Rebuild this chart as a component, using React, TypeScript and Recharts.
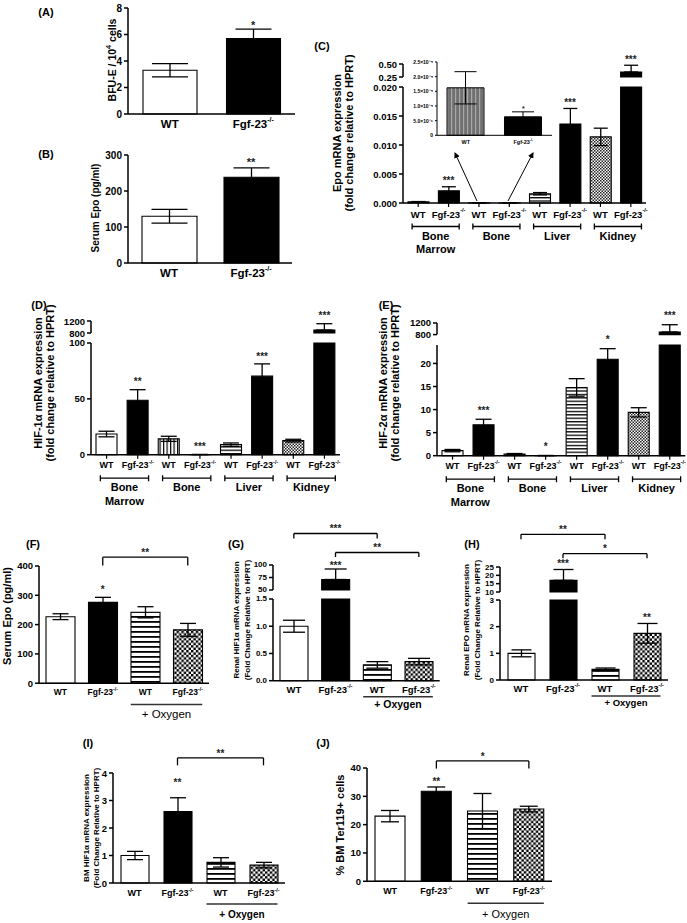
import React from 'react';
import { Bar, Cell, ComposedChart, ErrorBar, ReferenceLine, Scatter, XAxis, YAxis } from 'recharts';

const FONT = '"Liberation Sans", Arial, Helvetica, sans-serif';
const INK = '#000';

// ---- categories ----
const pairKeys = ['wt', 'ko'];
const pairLabels = ['WT', 'Fgf-23-/-'];
const insetKeys = ['iwt', 'iko'];

const tissueKeys = ['bmWT', 'bmKO', 'boneWT', 'boneKO', 'livWT', 'livKO', 'kidWT', 'kidKO'];
const tissueLabels = ['WT', 'Fgf-23-/-', 'WT', 'Fgf-23-/-', 'WT', 'Fgf-23-/-', 'WT', 'Fgf-23-/-'];
const tissueGroups = ['Bone|Marrow', 'Bone', 'Liver', 'Kidney'];

const oxyKeys = ['wt', 'ko', 'wtO2', 'koO2'];
const oxyLabels = ['WT', 'Fgf-23-/-', 'WT', 'Fgf-23-/-'];

// ---- values (mean, SEM, significance) ----
// (A) BFU-E / 10^4 cells
const bfuMean = [3.3, 5.7];
const bfuSem = [0.5, 0.7];
const bfuSig = ['', '*'];
// (B) serum Epo
const serumMean = [130, 238];
const serumSem = [19, 26];
const serumSig = ['', '**'];
// (C) Epo mRNA
const epoMean = [0.0002, 0.0021, 0.0000162, 0.0000063, 0.0016, 0.0136, 0.0114, 0.346];
const epoSem = [0.00005, 0.0007, 0.0000055, 0.0000017, 0.0002, 0.0027, 0.0015, 0.13];
const epoSig = ['', '***', '', '', '', '***', '', '***'];
const insetSig = ['', '*'];
// (D) HIF-1a mRNA
const hif1Mean = [18.5, 48.7, 14.2, 0.15, 9, 70.3, 12.6, 900];
const hif1Sem = [2.5, 9.5, 2.3, 0.05, 1.5, 11, 1.2, 210];
const hif1Sig = ['', '**', '', '***', '', '***', '', '***'];
// (E) HIF-2a mRNA
const hif2Mean = [1.1, 6.7, 0.35, 0.03, 14.8, 20.9, 9.4, 890];
const hif2Sem = [0.25, 1.2, 0.12, 0.01, 1.9, 2.3, 1.0, 250];
const hif2Sig = ['', '***', '', '*', '', '*', '', '***'];
// (F) serum Epo + oxygen
const o2EpoMean = [227, 276, 242, 182];
const o2EpoSem = [10, 17, 19, 22];
const o2EpoSig = ['', '*', '', ''];
// (G) renal HIF1a
const renalHifMean = [1.0, 71, 0.29, 0.35];
const renalHifSem = [0.11, 21, 0.06, 0.06];
const renalHifSig = ['', '***', '', ''];
// (H) renal EPO
const renalEpoMean = [1.0, 17, 0.4, 1.75];
const renalEpoSem = [0.13, 6.5, 0.05, 0.37];
const renalEpoSig = ['', '***', '', '**'];
// (I) BM HIF1a
const bmHifMean = [1.0, 2.6, 0.75, 0.65];
const bmHifSem = [0.15, 0.5, 0.17, 0.1];
const bmHifSig = ['', '**', '', ''];
// (J) % BM Ter119+
const terMean = [23, 31.8, 24.8, 25.5];
const terSem = [2, 1.5, 6.2, 1];
const terSig = ['', '**', '', ''];

const pairFills = ['#fff', '#000'];
const insetFills = ['url(#ig)', '#000'];
const tissueFills = ['#fff', '#000', 'url(#vs)', '#000', 'url(#hs2)', '#000', 'url(#fck)', '#000'];
const oxyFills = ['#fff', '#000', 'url(#hs)', 'url(#ck)'];

type Seg = { min: number; max: number; top: number; bottom: number; ticks: number[]; fmt?: (v: number) => string };
type Bracket = { from: string; to: string; y: number; leg: number; text: string };
type Cfg = {
  id: string;
  keys: string[]; labels: string[]; mean: number[]; sem: number[]; sig: string[]; fills: string[];
  x0: number; x1: number; lower: Seg; upper?: Seg;
  barSize: number; whisker: number; yFs: number; xFs: number; labelDy: number;
  starGap: number; starFs?: number; tickLine?: boolean; yw?: number; axisW?: number; yTick?: number;
  xh?: number;
  groups?: string[];
  oxygen?: { bold: boolean; fs: number; lineDy: number; textDy: number };
  brackets?: Bracket[]; bracketSeg?: 'lower' | 'upper';
};

const fix = (d: number) => (v: number) => v.toFixed(d);
const SUP: Record<string, string> = { '-': '⁻', '0': '⁰', '1': '¹', '2': '²', '3': '³', '4': '⁴', '5': '⁵', '6': '⁶', '7': '⁷', '8': '⁸', '9': '⁹' };
const sci = (v: number) => {
  if (v === 0) return '0';
  const e = Math.floor(Math.log10(v) + 1e-9);
  const m = v / Math.pow(10, e);
  return `${m.toFixed(1)}×10${String(e).split('').map((ch) => SUP[ch]).join('')}`;
};

const panelA: Cfg = {
  id: 'a', keys: pairKeys, labels: pairLabels, mean: bfuMean, sem: bfuSem, sig: bfuSig, fills: pairFills,
  x0: 128, x1: 295, lower: { min: 0, max: 8, top: 8, bottom: 114, ticks: [0, 2, 4, 6, 8] },
  barSize: 54, whisker: 36, yFs: 10, xFs: 11.5, labelDy: 9.5, starGap: 6, starFs: 11,
};
const panelB: Cfg = {
  id: 'b', keys: pairKeys, labels: pairLabels, mean: serumMean, sem: serumSem, sig: serumSig, fills: pairFills,
  x0: 128, x1: 292, lower: { min: 0, max: 300, top: 155, bottom: 263, ticks: [0, 100, 200, 300] },
  barSize: 55, whisker: 36, yFs: 10, xFs: 11.5, labelDy: 9.5, starGap: 8, starFs: 11,
};
const panelC: Cfg = {
  id: 'c', keys: tissueKeys, labels: tissueLabels, mean: epoMean, sem: epoSem, sig: epoSig,
  fills: ['#fff', '#000', 'url(#vs)', '#000', 'url(#hs2)', '#000', 'url(#fck)', '#000'],
  x0: 403, x1: 646,
  lower: { min: 0, max: 0.02, top: 87.3, bottom: 203.3, ticks: [0, 0.005, 0.01, 0.015, 0.02], fmt: fix(3) },
  upper: { min: 0.25, max: 0.5, top: 63.7, bottom: 76.7, ticks: [0.25, 0.5], fmt: fix(2) },
  barSize: 21, whisker: 14, yFs: 9.5, xFs: 9.5, labelDy: 11, starGap: 8, tickLine: true, groups: tissueGroups,
};
const panelInset: Cfg = {
  id: 'ci', keys: insetKeys, labels: pairLabels, mean: [epoMean[2], epoMean[3]], sem: [epoSem[2], epoSem[3]],
  sig: insetSig, fills: insetFills, x0: 437, x1: 552,
  lower: { min: 0, max: 0.000025, top: 61.7, bottom: 135, ticks: [0, 0.000005, 0.00001, 0.000015, 0.00002, 0.000025], fmt: sci },
  barSize: 37, whisker: 22, yFs: 5, xFs: 5.5, labelDy: 6.5, starGap: 5, starFs: 7, yw: 30, axisW: 1, yTick: 2,
};
const panelD: Cfg = {
  id: 'd', keys: tissueKeys, labels: tissueLabels, mean: hif1Mean, sem: hif1Sem, sig: hif1Sig, fills: tissueFills,
  x0: 91, x1: 340,
  lower: { min: 0, max: 100, top: 343.3, bottom: 455, ticks: [0, 50, 100] },
  upper: { min: 800, max: 1200, top: 320.7, bottom: 332.7, ticks: [800, 1200] },
  barSize: 21, whisker: 16, yFs: 9.5, xFs: 9, labelDy: 10.5, starGap: 10, tickLine: true, groups: tissueGroups,
};
const panelE: Cfg = {
  id: 'e', keys: tissueKeys, labels: tissueLabels, mean: hif2Mean, sem: hif2Sem, sig: hif2Sig, fills: tissueFills,
  x0: 436.7, x1: 685,
  lower: { min: 0, max: 24, top: 345, bottom: 455.7, ticks: [0, 5, 10, 15, 20] },
  upper: { min: 800, max: 1200, top: 322.7, bottom: 334.3, ticks: [800, 1200] },
  barSize: 21, whisker: 16, yFs: 9.5, xFs: 9, labelDy: 10, starGap: 11, tickLine: true, groups: tissueGroups,
};
const panelF: Cfg = {
  id: 'f', keys: oxyKeys, labels: oxyLabels, mean: o2EpoMean, sem: o2EpoSem, sig: o2EpoSig, fills: oxyFills,
  x0: 39, x1: 209, lower: { min: 0, max: 400, top: 565.5, bottom: 682.7, ticks: [0, 100, 200, 300, 400] },
  barSize: 29, whisker: 16, yFs: 9.5, xFs: 8.5, labelDy: 9, starGap: 10,
  oxygen: { bold: false, fs: 11.5, lineDy: 21.3, textDy: 30.6 },
  brackets: [{ from: 'ko', to: 'koO2', y: 430, leg: 28, text: '**' }],
};
const panelG: Cfg = {
  id: 'g', keys: oxyKeys, labels: oxyLabels, mean: renalHifMean, sem: renalHifSem, sig: renalHifSig, fills: oxyFills,
  x0: 273.3, x1: 440,
  lower: { min: 0, max: 1.5, top: 599, bottom: 680.7, ticks: [0, 0.5, 1, 1.5], fmt: fix(1) },
  upper: { min: 50, max: 100, top: 565, bottom: 590, ticks: [50, 75, 100] },
  barSize: 28, whisker: 22, yFs: 8, xFs: 9.5, labelDy: 8.6, starGap: 6,
  oxygen: { bold: true, fs: 10.5, lineDy: 16, textDy: 23.5 },
  bracketSeg: 'upper',
  brackets: [
    { from: 'wt', to: 'wtO2', y: 163, leg: 10, text: '***' },
    { from: 'ko', to: 'koO2', y: 125, leg: 9, text: '**' },
  ],
};
const panelH: Cfg = {
  id: 'h', keys: oxyKeys, labels: oxyLabels, mean: renalEpoMean, sem: renalEpoSem, sig: renalEpoSig, fills: oxyFills,
  x0: 500, x1: 668,
  lower: { min: 0, max: 3, top: 600, bottom: 680, ticks: [0, 1, 2, 3] },
  upper: { min: 10, max: 25, top: 566.7, bottom: 591.7, ticks: [10, 15, 20, 25] },
  barSize: 27, whisker: 20, yFs: 8, xFs: 9.5, labelDy: 8.3, starGap: 8,
  oxygen: { bold: true, fs: 9.5, lineDy: 16, textDy: 22.7 },
  bracketSeg: 'upper',
  brackets: [
    { from: 'wt', to: 'wtO2', y: 44.6, leg: 3, text: '**' },
    { from: 'ko', to: 'koO2', y: 33, leg: 2.8, text: '*' },
  ],
};
const panelI: Cfg = {
  id: 'i', keys: oxyKeys, labels: oxyLabels, mean: bmHifMean, sem: bmHifSem, sig: bmHifSig, fills: oxyFills,
  x0: 113, x1: 285, lower: { min: 0, max: 4, top: 773, bottom: 883, ticks: [0, 1, 2, 3, 4] },
  barSize: 28, whisker: 16, yFs: 9.5, xFs: 9, labelDy: 10, starGap: 17, xh: 40,
  oxygen: { bold: true, fs: 10, lineDy: 21, textDy: 31 },
  brackets: [{ from: 'ko', to: 'koO2', y: 4.55, leg: 0.27, text: '**' }],
};
const panelJ: Cfg = {
  id: 'j', keys: oxyKeys, labels: oxyLabels, mean: terMean, sem: terSem, sig: terSig, fills: oxyFills,
  x0: 367, x1: 552, lower: { min: 0, max: 40, top: 767.7, bottom: 881, ticks: [0, 10, 20, 30, 40] },
  barSize: 30, whisker: 18, yFs: 9.5, xFs: 9, labelDy: 10, starGap: 8, xh: 42,
  oxygen: { bold: false, fs: 11, lineDy: 22, textDy: 33 },
  brackets: [{ from: 'ko', to: 'koO2', y: 42.5, leg: 2.7, text: '*' }],
};

const panels = [panelA, panelB, panelC, panelInset, panelD, panelE, panelF, panelG, panelH, panelI, panelJ];

const tags = [
  { t: '(A)', x: 46, y: 12 }, { t: '(B)', x: 46, y: 154 }, { t: '(C)', x: 322, y: 46 },
  { t: '(D)', x: 39, y: 305 }, { t: '(E)', x: 386, y: 305 }, { t: '(F)', x: 33, y: 544 },
  { t: '(G)', x: 236, y: 544 }, { t: '(H)', x: 472, y: 544 }, { t: '(I)', x: 88, y: 743 },
  { t: '(J)', x: 323, y: 743 },
];

const titles = [
  { xs: [112], y: 60, fs: 10.5, lines: ['BFU-E / 10^4 cells'] },
  { xs: [95], y: 208, fs: 10, lines: ['Serum Epo (pg/ml)'] },
  { xs: [337, 349], y: 133, fs: 11, lines: ['Epo mRNA expression', '(fold change relative to HPRT)'] },
  { xs: [38, 50], y: 383, fs: 11, lines: ['HIF-1α mRNA expression', '(fold change relative to HPRT)'] },
  { xs: [383, 395], y: 383, fs: 11, lines: ['HIF-2α mRNA expression', '(fold change relative to HPRT)'] },
  { xs: [7], y: 616, fs: 11, lines: ['Serum Epo (pg/ml)'] },
  { xs: [236, 247], y: 620, fs: 8, lines: ['Renal HIF1α mRNA expression', '(Fold Change Relative to HPRT)'] },
  { xs: [466, 477], y: 620, fs: 8, lines: ['Renal EPO mRNA expression', '(Fold Change Relative to HPRT)'] },
  { xs: [86, 96], y: 828, fs: 8, lines: ['BM HIF1α mRNA expression', '(Fold Change Relative to HPRT)'] },
  { xs: [340], y: 825, fs: 11, lines: ['% BM Ter119+ cells'] },
];

const arrows = [
  { x1: 477, y1: 201, x2: 455, y2: 153 },
  { x1: 508, y1: 201, x2: 533, y2: 153 },
];

function CatLabel({ x, y, text, fs }: { x: number; y: number; text: string; fs: number }) {
  const ko = text.startsWith('Fgf');
  return (
    <text x={x} y={y} textAnchor="middle" dominantBaseline="central" fontSize={fs} fontWeight={700} fontFamily={FONT} fill={INK}>
      {ko ? (
        <>
          <tspan>Fgf-23</tspan>
          <tspan fontSize={fs * 0.6} dy={-fs * 0.38}>-/-</tspan>
        </>
      ) : (
        text
      )}
    </text>
  );
}

function XTick(props: any) {
  const { x, y, payload, c, bw } = props;
  const cfg = c as Cfg;
  const i = cfg.keys.indexOf(payload.value);
  const ay = y - 6;
  const out: React.ReactNode[] = [<CatLabel key="t" x={x} y={ay + cfg.labelDy} text={cfg.labels[i]} fs={cfg.xFs} />];
  if (cfg.groups && i % 2 === 1) {
    const l = x - bw * 1.2;
    const r = x + bw * 0.35;
    const by = ay + 23.5;
    out.push(
      <path key="b" d={`M${l},${by - 3}V${by + 3}M${l},${by}H${r}M${r},${by - 3}V${by + 3}`} stroke={INK} strokeWidth={1.3} fill="none" />,
    );
    cfg.groups[(i - 1) / 2].split('|').forEach((t, j) => {
      out.push(
        <text key={`g${j}`} x={(l + r) / 2} y={ay + 32.5 + j * 13.5} textAnchor="middle" dominantBaseline="central" fontSize={11} fontWeight={700} fontFamily={FONT} fill={INK}>
          {t}
        </text>,
      );
    });
  }
  if (cfg.oxygen && i === cfg.keys.length - 1) {
    const o = cfg.oxygen;
    const l = x - bw - cfg.barSize / 2;
    const r = x + cfg.barSize / 2;
    out.push(<line key="ol" x1={l} x2={r} y1={ay + o.lineDy} y2={ay + o.lineDy} stroke="#333" strokeWidth={1.4} />);
    out.push(
      <text key="ot" x={(l + r) / 2} y={ay + o.textDy} textAnchor="middle" dominantBaseline="central" fontSize={o.fs} fontWeight={o.bold ? 700 : 400} fontFamily={FONT} fill={INK}>
        + Oxygen
      </text>,
    );
  }
  return <g>{out}</g>;
}

function YTick(props: any) {
  const { x, y, payload, fs, fmt } = props;
  const v = payload.value as number;
  return (
    <text x={x} y={y} textAnchor="end" dominantBaseline="central" fontSize={fs} fontWeight={700} fontFamily={FONT} fill={INK}>
      {fmt ? fmt(v) : String(v)}
    </text>
  );
}

function Star(props: any) {
  const { cx, cy, payload, gap, fs } = props;
  if (!payload || !payload.sig || payload.s == null || !Number.isFinite(cx) || !Number.isFinite(cy)) return <g />;
  return (
    <text x={cx} y={cy - gap + fs * 0.57} textAnchor="middle" fontSize={fs} fontWeight={700} fontFamily={FONT} fill="#222">
      {payload.sig}
    </text>
  );
}

function bracketLabel(text: string) {
  return (p: any) => {
    const vb = p?.viewBox ?? {};
    const x = vb.x1 != null ? (vb.x1 + vb.x2) / 2 : vb.x + (vb.width ?? 0) / 2;
    const y = vb.y1 != null ? Math.min(vb.y1, vb.y2) : vb.y;
    return (
      <text x={x} y={y - 7 + 5.7} textAnchor="middle" fontSize={10} fontWeight={700} fontFamily={FONT} fill="#222">
        {text}
      </text>
    );
  };
}

function SegChart({ c, seg, which }: { c: Cfg; seg: Seg; which: 'lower' | 'upper' }) {
  const low = which === 'lower';
  const yId = `y-${c.id}-${which}`;
  const YW = c.yw ?? 40;
  const MT = 60;
  const MR = 14;
  const MB = low ? 0 : 10;
  const XH = low ? c.xh ?? 70 : 0;
  const bw = (c.x1 - c.x0) / c.keys.length;
  const brk = c.upper ? c.lower.max : Infinity;
  const data = c.keys.map((k, i) => {
    const m = c.mean[i];
    const s = c.sem[i];
    const here = low || m > brk;
    const whole = low ? m <= brk : true;
    return {
      k,
      v: here ? Math.min(m, low ? brk : m) : null,
      e: here && whole ? [low ? Math.min(s, m) : 0, s] : null,
      s: here && whole && c.sig[i] ? m + s : null,
      sig: c.sig[i],
    };
  });
  const axis = { stroke: INK, strokeWidth: c.axisW ?? 1.5 };
  const showBrackets = which === (c.bracketSeg ?? 'lower');
  return (
    <div style={{ position: 'absolute', left: c.x0 - YW, top: seg.top - MT }}>
      <ComposedChart
        width={c.x1 - c.x0 + YW + MR}
        height={seg.bottom - seg.top + MT + XH + MB}
        data={data}
        margin={{ top: MT, right: MR, bottom: MB, left: 0 }}
      >
        <XAxis
          dataKey="k"
          hide={!low}
          height={low ? XH : undefined}
          interval={0}
          tickSize={4}
          tickMargin={2}
          axisLine={axis}
          tickLine={c.tickLine ? { stroke: INK, strokeWidth: 1.2 } : false}
          tick={(p: any) => <XTick {...p} c={c} bw={bw} />}
        />
        <YAxis
          yAxisId={yId}
          orientation="left"
          type="number"
          domain={[seg.min, seg.max]}
          ticks={seg.ticks}
          interval={0}
          width={YW}
          tickSize={c.yTick ?? 4}
          tickMargin={2}
          axisLine={axis}
          tickLine={axis}
          tick={(p: any) => <YTick {...p} fs={c.yFs} fmt={seg.fmt} />}
        />
        <Bar yAxisId={yId} dataKey="v" barSize={c.barSize} stroke={INK} strokeWidth={c.axisW ?? 1.1} isAnimationActive={false}>
          {data.map((d, i) => (
            <Cell key={d.k} fill={c.fills[i]} />
          ))}
          <ErrorBar dataKey="e" width={c.whisker / 2} stroke={INK} strokeWidth={c.axisW ?? 1.3} direction="y" isAnimationActive={false} />
        </Bar>
        <Scatter yAxisId={yId} dataKey="s" isAnimationActive={false} shape={(p: any) => <Star {...p} gap={c.starGap} fs={c.starFs ?? 10} />} />
        {showBrackets &&
          (c.brackets ?? []).flatMap((b, i) => [
            <ReferenceLine
              key={`h${i}`}
              yAxisId={yId}
              segment={[{ x: b.from, y: b.y }, { x: b.to, y: b.y }]}
              ifOverflow="visible"
              stroke={INK}
              strokeWidth={1.3}
              label={bracketLabel(b.text)}
            />,
            <ReferenceLine key={`l${i}`} yAxisId={yId} segment={[{ x: b.from, y: b.y }, { x: b.from, y: b.y - b.leg }]} ifOverflow="visible" stroke={INK} strokeWidth={1.3} />,
            <ReferenceLine key={`r${i}`} yAxisId={yId} segment={[{ x: b.to, y: b.y }, { x: b.to, y: b.y - b.leg }]} ifOverflow="visible" stroke={INK} strokeWidth={1.3} />,
          ])}
      </ComposedChart>
    </div>
  );
}

function Patterns() {
  return (
    <svg width={0} height={0} style={{ position: 'absolute' }}>
      <defs>
        <pattern id="hs" width={6} height={5} patternUnits="userSpaceOnUse">
          <rect width={6} height={5} fill="#fff" />
          <rect width={6} height={1.8} fill="#000" />
        </pattern>
        <pattern id="hs2" width={6} height={3.4} patternUnits="userSpaceOnUse">
          <rect width={6} height={3.4} fill="#fff" />
          <rect width={6} height={1.3} fill="#000" />
        </pattern>
        <pattern id="vs" width={3.5} height={6} patternUnits="userSpaceOnUse">
          <rect width={3.5} height={6} fill="#fff" />
          <rect width={1.2} height={6} fill="#000" />
        </pattern>
        <pattern id="ck" width={4.8} height={4.8} patternUnits="userSpaceOnUse">
          <rect width={4.8} height={4.8} fill="#fff" />
          <rect width={2.4} height={2.4} fill="#000" />
          <rect x={2.4} y={2.4} width={2.4} height={2.4} fill="#000" />
        </pattern>
        <pattern id="fck" width={3} height={3} patternUnits="userSpaceOnUse">
          <rect width={3} height={3} fill="#fff" />
          <rect width={1.5} height={1.5} fill="#222" />
          <rect x={1.5} y={1.5} width={1.5} height={1.5} fill="#222" />
        </pattern>
        <pattern id="ig" width={4} height={6} patternUnits="userSpaceOnUse">
          <rect width={4} height={6} fill="#707070" />
          <rect width={1.2} height={6} fill="#a8a8a8" />
        </pattern>
      </defs>
    </svg>
  );
}

function TitleLine({ x, y, fs, text }: { x: number; y: number; fs: number; text: string }) {
  const parts = text.split(/\^(\S)/);
  return (
    <g transform={`translate(${x},${y}) rotate(-90)`}>
      <text textAnchor="middle" dominantBaseline="central" fontSize={fs} fontWeight={700} fontFamily={FONT} fill={INK}>
        {parts.length === 3 ? (
          <>
            <tspan>{parts[0]}</tspan>
            <tspan fontSize={fs * 0.7} dy={-fs * 0.35}>{parts[1]}</tspan>
            <tspan dy={fs * 0.35}>{parts[2]}</tspan>
          </>
        ) : (
          text
        )}
      </text>
    </g>
  );
}

function Overlay() {
  return (
    <svg width={687} height={923} style={{ position: 'absolute', left: 0, top: 0, pointerEvents: 'none' }}>
      <defs>
        <marker id="ah" markerWidth={6} markerHeight={6} refX={5} refY={3} orient="auto" markerUnits="userSpaceOnUse">
          <path d="M0,0 L6,3 L0,6 z" fill="#000" />
        </marker>
      </defs>
      {tags.map((t) => (
        <text key={t.t} x={t.x} y={t.y} textAnchor="middle" dominantBaseline="central" fontSize={11} fontWeight={700} fontFamily={FONT} fill={INK}>
          {t.t}
        </text>
      ))}
      {titles.map((t, i) =>
        t.lines.map((line, j) => <TitleLine key={`${i}-${j}`} x={t.xs[j]} y={t.y} fs={t.fs} text={line} />),
      )}
      {arrows.map((a, i) => (
        <line key={i} x1={a.x1} y1={a.y1} x2={a.x2} y2={a.y2} stroke="#000" strokeWidth={1} markerEnd="url(#ah)" />
      ))}
    </svg>
  );
}

export default function App() {
  return (
    <div style={{ position: 'absolute', left: 0, top: 0, width: 687, height: 923, background: '#fff', overflow: 'hidden' }}>
      <Patterns />
      {panels.map((c) => (
        <React.Fragment key={c.id}>
          <SegChart c={c} seg={c.lower} which="lower" />
          {c.upper && <SegChart c={c} seg={c.upper} which="upper" />}
        </React.Fragment>
      ))}
      <Overlay />
    </div>
  );
}
